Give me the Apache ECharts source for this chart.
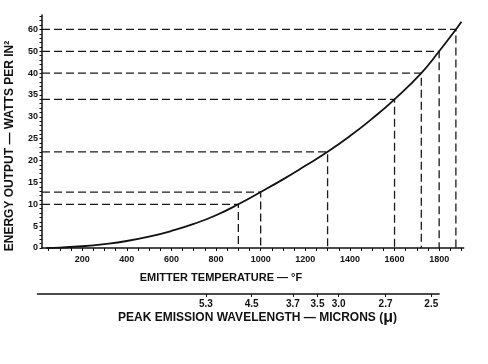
<!DOCTYPE html>
<html><head><meta charset="utf-8">
<script src="https://cdn.jsdelivr.net/npm/echarts@6/dist/echarts.min.js"></script>
<style>html,body{margin:0;padding:0;background:#fff}#c{width:488px;height:364px}</style>
</head><body><div id="c"></div>
<script>
// ---- data ----
const yTickLabels = [0, 5, 10, 15, 20, 25, 30, 35, 40, 50, 60];
const xTickLabels = [200, 400, 600, 800, 1000, 1200, 1400, 1600, 1800];
const curveTemps  = [40, 100, 200, 300, 400, 500, 600, 700, 800, 900, 1000, 1100, 1200, 1300, 1400, 1500, 1600, 1720, 1800, 1875, 1900];
const curveEnergy = [0, 0.1, 0.4, 0.9, 1.6, 2.6, 3.9, 5.5, 7.5, 10, 12.8, 15.7, 18.8, 22, 25.6, 29.6, 34, 40, 50, 60, 63.5];
const guideTemps  = [900, 1000, 1300, 1600, 1720, 1800, 1875];
const guideEnergy = [10, 12.8, 22, 34, 40, 50, 60];
const waveLabels  = ['5.3', '4.5', '3.7', '3.5', '3.0', '2.7', '2.5'];
const waveTemps   = [755, 960, 1145, 1255, 1350, 1560, 1765];

const X_MIN = 20, X_MAX = 1910, Y_TOP = 10.66;
const FONT = '"Liberation Sans", Arial, sans-serif';
const INK = '#111';

// the energy axis of the original is stepped: evenly spaced labels 0..35 by 5, then 40, 50, 60
function toIdx(e) {
  const n = yTickLabels.length;
  for (let i = 0; i < n - 1; i++) {
    const a = yTickLabels[i], b = yTickLabels[i + 1];
    if (e <= b || i === n - 2) return i + (e - a) / (b - a);
  }
}

const yMinor = []; for (let v = 0; v <= Y_TOP - 0.05; v += 0.2) yMinor.push(+v.toFixed(2));
const xMinor = []; for (let v = 50; v <= 1900; v += 50) xMinor.push(v);
const yMajor = yTickLabels.map((_, i) => i);

const series = [{
  type: 'line', xAxisIndex: 0, yAxisIndex: 0,
  data: curveTemps.map((t, i) => [t, toIdx(curveEnergy[i])]),
  smooth: 0.5, showSymbol: false, silent: true,
  lineStyle: { color: INK, width: 1.8 }, z: 5
}];
guideTemps.forEach((t, i) => {
  const yi = toIdx(guideEnergy[i]);
  series.push({
    type: 'line', xAxisIndex: 0, yAxisIndex: 0,
    data: [[X_MIN, yi], [t, yi], [t, 0]],
    showSymbol: false, silent: true,
    lineStyle: { color: '#1a1a1a', width: 1.3, type: [8, 4] }, z: 3
  });
});

const chart = echarts.init(document.getElementById('c'), null, { renderer: 'canvas' });
chart.setOption({
  animation: false,
  backgroundColor: '#fff',
  grid: [
    { left: 42, top: 15, width: 421.7, bottom: 116 },
    { left: 37.5, top: 290, width: 401.6, height: 4 }
  ],
  xAxis: [{
    gridIndex: 0, type: 'value', min: X_MIN, max: X_MAX,
    axisLine: { lineStyle: { color: INK, width: 1.5 } },
    axisTick: { customValues: xMinor, length: 3, lineStyle: { color: INK, width: 1 } },
    axisLabel: { customValues: xTickLabels, margin: 7, color: INK, fontFamily: FONT, fontWeight: 'bold', fontSize: 9,
      formatter: v => String(v) },
    splitLine: { show: false }
  }, {
    gridIndex: 1, type: 'value', min: 0, max: 1800, position: 'bottom',
    axisLine: { lineStyle: { color: INK, width: 1.5 } },
    axisTick: { customValues: waveTemps, length: 3, lineStyle: { color: INK, width: 1 } },
    axisLabel: {
      customValues: waveTemps, margin: 5, color: INK, fontFamily: FONT, fontWeight: 'bold', fontSize: 10,
      formatter: v => waveLabels[waveTemps.indexOf(v)] ?? ''
    },
    splitLine: { show: false }
  }],
  yAxis: [{
    gridIndex: 0, type: 'value', min: 0, max: Y_TOP,
    axisLine: { show: true, lineStyle: { color: INK, width: 1.5 } },
    axisTick: { show: true, customValues: yMinor, length: 2.5, lineStyle: { color: INK, width: 1 } },
    axisLabel: {
      customValues: yMajor, margin: 4, color: INK, fontFamily: FONT, fontWeight: 'bold', fontSize: 9,
      formatter: v => String(yTickLabels[Math.round(v)])
    },
    splitLine: { show: false }
  }, {
    gridIndex: 1, type: 'value', show: false, min: 0, max: 1
  }],
  graphic: [{
    type: 'text', x: 10, y: 146, rotation: Math.PI / 2,
    style: { text: 'ENERGY OUTPUT — WATTS PER IN²', fill: INK, font: 'bold 12px ' + FONT, textAlign: 'center', textVerticalAlign: 'middle' }
  }, {
    type: 'text', x: 221, y: 278,
    style: { text: 'EMITTER TEMPERATURE — °F', fill: INK, font: 'bold 11px ' + FONT, textAlign: 'center', textVerticalAlign: 'middle' }
  }, {
    type: 'text', x: 118, y: 318,
    style: {
      text: '{a|PEAK EMISSION WAVELENGTH — MICRONS (}{m|μ}{a|)}',
      textAlign: 'left', textVerticalAlign: 'middle',
      rich: {
        a: { fill: INK, font: 'bold 12px ' + FONT },
        m: { fill: INK, font: 'bold 16px ' + FONT }
      }
    }
  }],
  series: series
});
</script>
</body></html>
